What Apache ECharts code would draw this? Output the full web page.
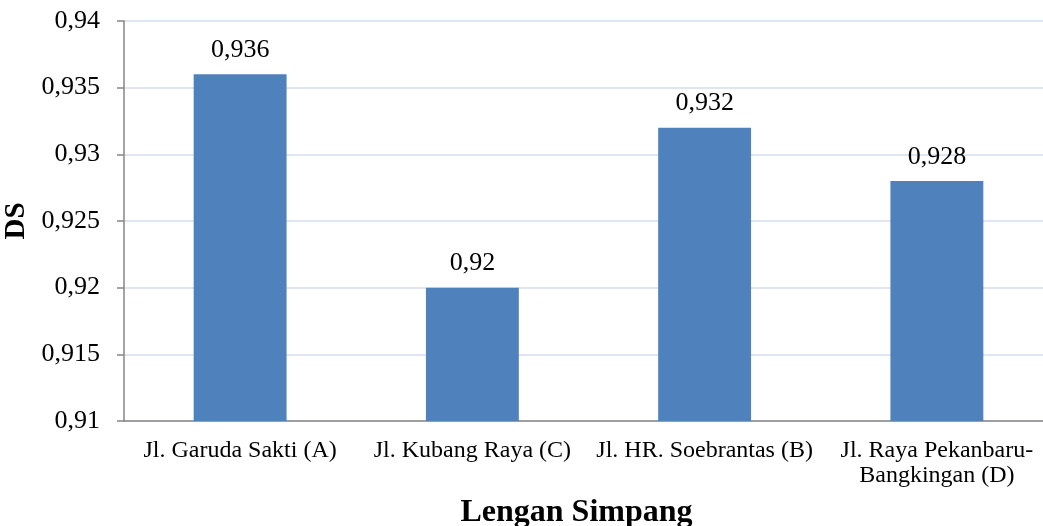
<!DOCTYPE html>
<html>
<head>
<meta charset="utf-8">
<script src="https://cdn.jsdelivr.net/npm/echarts@6/dist/echarts.min.js"></script>
<style>
  html, body { margin: 0; padding: 0; background: #fff; }
  #chart { width: 1043px; height: 526px; }
</style>
</head>
<body>
<div id="chart"></div>
<script>
// Degree of saturation (DS) per intersection arm
const categories = [
  'Jl. Garuda Sakti (A)',
  'Jl. Kubang Raya (C)',
  'Jl. HR. Soebrantas (B)',
  'Jl. Raya Pekanbaru-\nBangkingan (D)'
];
const dsValues = [0.936, 0.92, 0.932, 0.928];
const yMin = 0.91;
const yMax = 0.94;
const yStep = 0.005;
const xTitle = 'Lengan Simpang';
const yTitle = 'DS';

const serif = '"Liberation Serif", "Times New Roman", serif';
const fmt = v => String(Math.round(v * 1000) / 1000).replace('.', ',');

const chart = echarts.init(document.getElementById('chart'), null, { renderer: 'canvas' });
chart.setOption({
  animation: false,
  backgroundColor: '#ffffff',
  textStyle: { fontFamily: serif, color: '#000' },
  grid: {
    left: 124, right: -10, top: 21, bottom: 105,
    containLabel: false,
    outerBoundsMode: 'none'
  },
  xAxis: {
    type: 'category',
    data: categories,
    axisLine: { show: true, lineStyle: { color: '#868686', width: 1.5 } },
    axisTick: { show: false },
    axisLabel: {
      interval: 0,
      margin: 17,
      fontFamily: serif,
      fontSize: 24,
      lineHeight: 25,
      color: '#000',
      align: 'center'
    },
    name: xTitle,
    nameLocation: 'middle',
    nameGap: 76,
    nameTextStyle: {
      fontFamily: serif, fontSize: 32, fontWeight: 'bold', color: '#000',
      padding: [0, 24, 0, 0]
    }
  },
  yAxis: {
    type: 'value',
    min: yMin,
    max: yMax,
    interval: yStep,
    axisLine: { show: true, lineStyle: { color: '#868686', width: 1.5 } },
    axisTick: { show: true, length: 7, lineStyle: { color: '#868686', width: 1.5 } },
    splitLine: { show: true, lineStyle: { color: '#D5DEEE', width: 1.5 } },
    axisLabel: {
      margin: 24,
      fontFamily: serif,
      fontSize: 26,
      color: '#000',
      formatter: fmt
    },
    name: yTitle,
    nameLocation: 'middle',
    nameGap: 87,
    nameRotate: 90,
    nameTextStyle: { fontFamily: serif, fontSize: 29, fontWeight: 'bold', color: '#000' }
  },
  series: [{
    type: 'bar',
    data: dsValues,
    barWidth: '40%',
    itemStyle: { color: '#4F81BD' },
    label: {
      show: true,
      position: 'top',
      distance: 11,
      fontFamily: serif,
      fontSize: 26,
      color: '#000',
      formatter: p => fmt(p.value)
    }
  }]
});
</script>
</body>
</html>
